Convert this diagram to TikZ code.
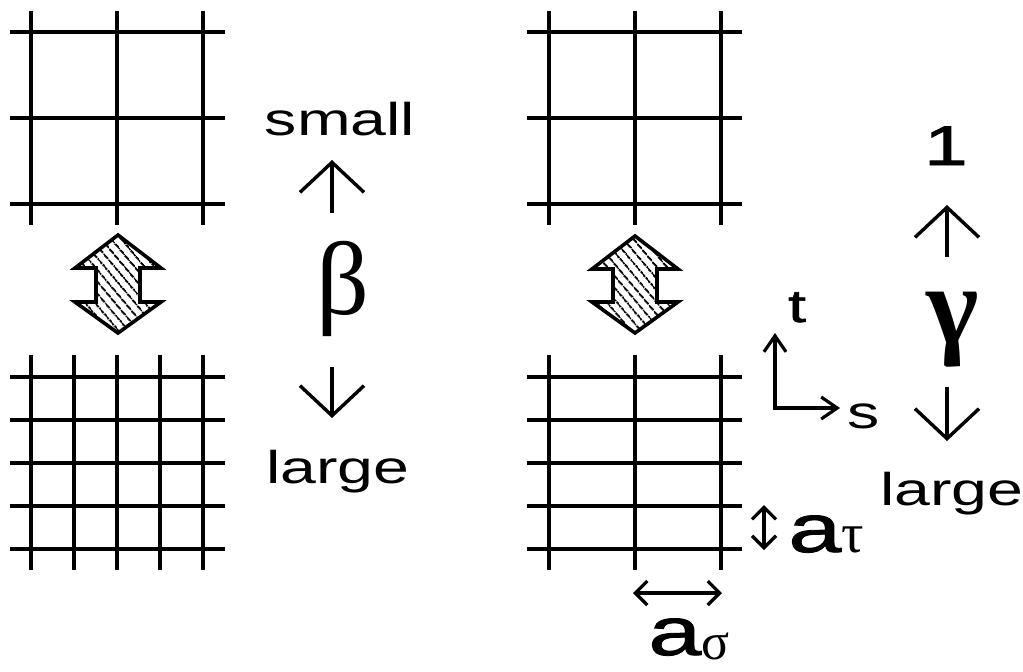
\documentclass[tikz,border=0pt]{standalone}
\usepackage{fontspec}
\setmainfont{Liberation Sans}
\newfontfamily\greekfont{Liberation Serif}
\newfontfamily\heavyfont[FakeBold=1.2]{Liberation Sans}
\usetikzlibrary{arrows.meta,patterns.meta}
\newcommand\stretchtxt[1]{\scalebox{1.4}[1]{#1}}
\tikzset{
  gridline/.style={line width=2.3pt},
  swapbox/.style={line width=1.8pt, pattern={Lines[angle=-50,distance=4pt,line width=1.1pt]}},
  bigtip/.style={line width=1.7pt, -{Straight Barb[length=15pt,width=32pt]}},
  axtip/.style={line width=1.6pt, {Straight Barb[length=8pt,width=11pt]}-{Straight Barb[length=8pt,width=11pt]}},
  sizetip/.style={line width=1.6pt, {Straight Barb[length=6pt,width=12pt]}-{Straight Barb[length=6pt,width=12pt]}},
  lbl/.style={font=\fontsize{23}{23}\selectfont, inner sep=0pt, anchor=base},
  greeklbl/.style={font=\greekfont\fontsize{52}{52}\selectfont, inner sep=0pt, anchor=base},
  spacing/.style={font=\heavyfont\fontsize{34}{34}\selectfont, inner sep=0pt, anchor=base west}
}
\begin{document}
\begin{tikzpicture}[x=0.5pt, y=-0.5pt]
    \useasboundingbox (0,0) rectangle (1023,671);

    \draw[gridline] (31,11) -- (31,225) (117,11) -- (117,225) (203,11) -- (203,225);
    \draw[gridline] (10,32) -- (225,32) (10,118) -- (225,118) (10,204) -- (225,204);

    \draw[gridline] (31,355) -- (31,570) (74,355) -- (74,570) (117,355) -- (117,570)
        (160,355) -- (160,570) (203,355) -- (203,570);
    \draw[gridline] (10,377) -- (225,377) (10,420) -- (225,420) (10,463) -- (225,463)
        (10,506) -- (225,506) (10,549) -- (225,549);

    \draw[gridline] (549,11) -- (549,225) (635,11) -- (635,225) (721,11) -- (721,225);
    \draw[gridline] (527,32) -- (742,32) (527,118) -- (742,118) (527,204) -- (742,204);

    \draw[gridline] (549,355) -- (549,570) (635,355) -- (635,570) (721,355) -- (721,570);
    \draw[gridline] (527,377) -- (742,377) (527,420) -- (742,420) (527,463) -- (742,463)
        (527,506) -- (742,506) (527,549) -- (742,549);

    \draw[swapbox] (118,235) -- ++(43,33) -- ++(-21,0) -- ++(0,34) -- ++(21,0) -- ++(-43,31)
        -- ++(-43,-31) -- ++(21,0) -- ++(0,-34) -- ++(-21,0) -- cycle;
    \draw[swapbox] (635,236) -- ++(43,33) -- ++(-21,0) -- ++(0,33) -- ++(21,0) -- ++(-43,31)
        -- ++(-43,-31) -- ++(21,0) -- ++(0,-33) -- ++(-21,0) -- cycle;

    \node[lbl] (small) at (340,135) {\stretchtxt{small}};
    \node[lbl] (blarge) at (338,483) {\stretchtxt{large}};
    \node[greeklbl] (beta) at (343,314) {β};
    \coordinate (bupfoot) at (332,213);
    \coordinate (buptip) at (332,160);
    \coordinate (bdownfoot) at (332,367);
    \coordinate (bdowntip) at (332,418);
    \draw[bigtip] (bupfoot) -- (buptip);
    \draw[bigtip] (bdownfoot) -- (bdowntip);

    \node[lbl, font=\heavyfont\fontsize{28}{28}\selectfont] (one) at (946,165) {\stretchtxt{1}};
    \node[lbl] (glarge) at (952,505) {\stretchtxt{large}};
    \node[greeklbl, font=\greekfont\bfseries\fontsize{56}{56}\selectfont] (gamma) at (953,343) {γ};
    \coordinate (gupfoot) at (947,257);
    \coordinate (guptip) at (947,205);
    \coordinate (gdownfoot) at (947,387);
    \coordinate (gdowntip) at (947,441);
    \draw[bigtip] (gupfoot) -- (guptip);
    \draw[bigtip] (gdownfoot) -- (gdowntip);

    \coordinate (origin) at (775,408);
    \coordinate (tend) at (775,333);
    \coordinate (send) at (840,408);
    \draw[axtip] (tend) -- (origin) -- (send);
    \node[lbl, font=\heavyfont\fontsize{23}{23}\selectfont] (tlbl) at (797,322) {\stretchtxt{t}};
    \node[lbl] (slbl) at (864,428) {\stretchtxt{s}};

    \coordinate (atop) at (764,505);
    \coordinate (abot) at (764,550);
    \draw[sizetip] (atop) -- (abot);
    \node[spacing] (atau) at (788,552) {\stretchtxt{a}{\greekfont\fontsize{28}{28}\selectfont τ}};

    \coordinate (aleft) at (633,593);
    \coordinate (aright) at (722,593);
    \draw[sizetip] (aleft) -- (aright);
    \node[spacing] (asigma) at (648,655) {\stretchtxt{a}\raisebox{-2pt}{\greekfont\fontsize{26}{26}\selectfont σ}};
\end{tikzpicture}
\end{document}
